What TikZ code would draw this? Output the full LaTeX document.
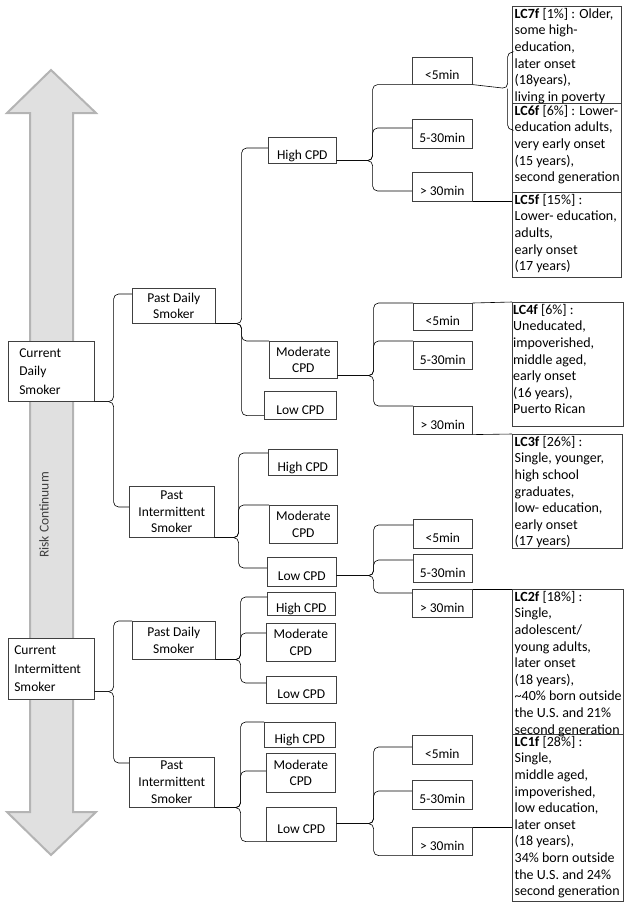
\documentclass[tikz,border=0pt]{standalone}
\usepackage{fontspec}
\setmainfont{Carlito}
\usepackage{xcolor}
\usepackage{tikz}
\definecolor{arrowfill}{HTML}{E0E0E0}
\definecolor{arrowedge}{HTML}{B4B4B4}

\begin{document}
\begin{tikzpicture}[x=1pt, y=-1pt,
  font=\fontsize{13.5}{16.6}\selectfont,
  box/.style={draw=black!75, line width=0.6pt, fill=white, anchor=north west, inner sep=0pt, align=center},
  lone/.style={box, text height=18pt, text depth=0pt},
  toplevel/.style={box, align=left, font=\fontsize{13.5}{18.5}\selectfont},
  lcbox/.style={draw=black!75, line width=0.6pt, anchor=north west, inner sep=0pt},
  lctext/.style={anchor=north west, inner xsep=2.5pt, inner ysep=2pt, align=left, font=\fontsize{14}{16.6}\selectfont},
  link/.style={draw=black, line width=0.6pt, rounded corners=5pt}]
  \useasboundingbox (0,0) rectangle (629,906);
  % Risk arrow
  \draw[arrowedge, fill=arrowfill, line width=2pt] (51,70) -- (96,113) -- (73,113) -- (73,812)
    -- (96,812) -- (51,855) -- (7,812) -- (30,812) -- (30,113) -- (7,113) -- cycle;
  \node[rotate=90, text=black!75] (risk) at (44,515) {Risk Continuum};
  % Current status
  \node[toplevel, minimum width=86pt, minimum height=60pt, inner xsep=11pt, text width=64pt] (cds) at (8,341) {Current\\Daily\\Smoker};
  \node[toplevel, minimum width=86pt, minimum height=61pt, inner xsep=6pt, text width=74pt] (cis) at (8,638) {Current\\Intermittent\\Smoker};
  % Past status
  \node[box, minimum width=83pt, minimum height=35pt] (pds1) at (132,288) {Past Daily\\Smoker};
  \node[box, minimum width=85pt, minimum height=51pt] (pis1) at (129,486) {Past\\Intermittent\\Smoker};
  \node[box, minimum width=83pt, minimum height=38pt] (pds2) at (132,621) {Past Daily\\Smoker};
  \node[box, minimum width=85pt, minimum height=50pt] (pis2) at (129,757) {Past\\Intermittent\\Smoker};
  % Cigarettes per day
  \node[lone, minimum width=68pt, minimum height=26pt] (hi1) at (268,137) {High CPD};
  \node[box, minimum width=68pt, minimum height=37pt] (mo1) at (269,341) {Moderate\\CPD};
  \node[lone, minimum width=72pt, minimum height=28pt] (lo1) at (264,391) {Low CPD};
  \node[lone, minimum width=69pt, minimum height=26pt] (hi2) at (268,449) {High CPD};
  \node[box, minimum width=68pt, minimum height=38pt] (mo2) at (269,505) {Moderate\\CPD};
  \node[lone, minimum width=69pt, minimum height=29pt] (lo2) at (267,557) {Low CPD};
  \node[lone, minimum width=68pt, minimum height=23pt] (hi3) at (267,592) {High CPD};
  \node[box, minimum width=69pt, minimum height=38pt] (mo3) at (266,623) {Moderate\\CPD};
  \node[lone, minimum width=70pt, minimum height=27pt] (lo3) at (266,676) {Low CPD};
  \node[lone, minimum width=71pt, minimum height=25pt] (hi4) at (264,722) {High CPD};
  \node[box, minimum width=69pt, minimum height=39pt] (mo4) at (266,753) {Moderate\\CPD};
  \node[lone, minimum width=70pt, minimum height=34pt] (lo4) at (266,807) {Low CPD};
  % Time to first cigarette
  \node[lone, minimum width=60pt, minimum height=27pt] (fast1) at (412,57) {<5min};
  \node[lone, minimum width=60pt, minimum height=29pt] (mid1) at (412,119) {5-30min};
  \node[lone, minimum width=60pt, minimum height=29pt] (slow1) at (412,172) {> 30min};
  \node[lone, minimum width=59pt, minimum height=27pt] (fast2) at (413,303) {<5min};
  \node[lone, minimum width=59pt, minimum height=28pt] (mid2) at (413,341) {5-30min};
  \node[lone, minimum width=59pt, minimum height=28pt] (slow2) at (413,406) {> 30min};
  \node[lone, minimum width=59pt, minimum height=29pt] (fast3) at (413,519) {<5min};
  \node[lone, minimum width=59pt, minimum height=28pt] (mid3) at (413,554) {5-30min};
  \node[lone, minimum width=60pt, minimum height=28pt] (slow3) at (412,589) {> 30min};
  \node[lone, minimum width=60pt, minimum height=29pt] (fast4) at (412,735) {<5min};
  \node[lone, minimum width=60pt, minimum height=29pt] (mid4) at (412,780) {5-30min};
  \node[lone, minimum width=60pt, minimum height=28pt] (slow4) at (412,827) {> 30min};
  % Latent classes
  \node[lcbox, minimum width=109pt, minimum height=97pt] (lc7) at (512,6) {};
  \node[lcbox, minimum width=109pt, minimum height=89pt] (lc6) at (512,103) {};
  \node[lcbox, minimum width=109pt, minimum height=85pt] (lc5) at (512,192) {};
  \node[lcbox, minimum width=111pt, minimum height=124pt] (lc4) at (512,302) {};
  \node[lcbox, minimum width=110pt, minimum height=114pt] (lc3) at (512,434) {};
  \node[lcbox, minimum width=111pt, minimum height=145pt] (lc2) at (512,589) {};
  \node[lcbox, minimum width=111pt, minimum height=167pt] (lc1) at (512,734) {};
  \node[lctext] (lc7t) at (lc7.north west) {\textbf{LC7f} [1\%] : Older,\\some high-\\education,\\later onset\\(18years),\\living in poverty};
  \node[lctext] (lc6t) at (lc6.north west) {\textbf{LC6f} [6\%] : Lower-\\education adults,\\very early onset\\(15 years),\\second generation};
  \node[lctext] (lc5t) at (lc5.north west) {\textbf{LC5f} [15\%] :\\Lower- education,\\adults,\\early onset\\(17 years)};
  \node[lctext, inner xsep=1pt] (lc4t) at (lc4.north west) {\textbf{LC4f} [6\%] :\\Uneducated,\\impoverished,\\middle aged,\\early onset\\(16 years),\\Puerto Rican};
  \node[lctext] (lc3t) at (lc3.north west) {\textbf{LC3f} [26\%] :\\Single, younger,\\high school\\graduates,\\low- education,\\early onset\\(17 years)};
  \node[lctext] (lc2t) at (lc2.north west) {\textbf{LC2f} [18\%] :\\Single,\\adolescent/\\young adults,\\later onset\\(18 years),\\\textasciitilde40\% born outside\\the U.S. and 21\%\\second generation};
  \node[lctext] (lc1t) at (lc1.north west) {\textbf{LC1f} [28\%] :\\Single,\\middle aged,\\impoverished,\\low education,\\later onset\\(18 years),\\34\% born outside\\the U.S. and 24\%\\second generation};
  % Current -> past
  \draw[link] (cds.south east) -- ++(19,0) |- ([yshift=-6pt]pds1.north west);
  \draw[link] (cds.south east) -- ++(19,0) |- ([yshift=-21pt]pis1.north west);
  \draw[link] ([yshift=8pt]cis.south east) -- ++(19,0) |- (pds2.north west);
  \draw[link] ([yshift=8pt]cis.south east) -- ++(19,0) |- ([yshift=-6pt]pis2.north west);
  % Past -> CPD
  \draw[link] (pds1.south east) -- ++(26,0) |- ([yshift=-11pt]hi1.north west);
  \draw[link] (pds1.south east) -- ++(26,0) |- (mo1.north west);
  \draw[link] (pds1.south east) -- ++(26,0) |- ([yshift=4pt]lo1.south west);
  \draw[link] (pis1.south east) -- ++(24,0) |- ([yshift=-4pt]hi2.north west);
  \draw[link] (pis1.south east) -- ++(24,0) |- (mo2.north west);
  \draw[link] (pis1.south east) -- ++(24,0) |- ([yshift=-11pt]lo2.north west);
  \draw[link] (pds2.south east) -- ++(25,0) |- ([yshift=-5pt]hi3.north west);
  \draw[link] (pds2.south east) -- ++(25,0) |- ([yshift=-10pt]mo3.north west);
  \draw[link] (pds2.south east) -- ++(25,0) |- ([yshift=-7pt]lo3.north west);
  \draw[link] (pis2.south east) -- ++(26,0) |- (hi4.north west);
  \draw[link] (pis2.south east) -- ++(26,0) |- ([yshift=-18pt]mo4.north west);
  \draw[link] (pis2.south east) -- ++(26,0) |- (lo4.south west);
  % CPD -> time to first cigarette
  \draw[link] ([yshift=3pt]hi1.south east) -- ++(36,0) |- (fast1.south west);
  \draw[link] ([yshift=3pt]hi1.south east) -- ++(36,0) |- ([yshift=-9pt]mid1.north west);
  \draw[link] ([yshift=3pt]hi1.south east) -- ++(36,0) |- ([yshift=-19pt]slow1.north west);
  \draw[link] ([yshift=3pt]mo1.south east) -- ++(36,0) |- (fast2.north west);
  \draw[link] ([yshift=3pt]mo1.south east) -- ++(36,0) |- (mid2.north west);
  \draw[link] ([yshift=3pt]mo1.south east) -- ++(36,0) |- (slow2.north west);
  \draw[link] ([yshift=11pt]lo2.south east) -- ++(37,0) |- ([yshift=-6pt]fast3.north west);
  \draw[link] ([yshift=11pt]lo2.south east) -- ++(37,0) |- ([yshift=-6pt]mid3.north west);
  \draw[link] ([yshift=11pt]lo2.south east) -- ++(37,0) |- ([yshift=-4pt]slow3.north west);
  \draw[link] ([yshift=18pt]lo4.south east) -- ++(37,0) |- ([yshift=-12pt]fast4.north west);
  \draw[link] ([yshift=18pt]lo4.south east) -- ++(37,0) |- ([yshift=-11pt]mid4.north west);
  \draw[link] ([yshift=18pt]lo4.south east) -- ++(37,0) |- (slow4.south west);
  % Time -> latent classes
  \draw[link] (fast1.south east) -- ++(35,4) coordinate (split) |- ([yshift=-46pt]lc7.north west);
  \draw[link] (split) |- ([yshift=-27pt]lc6.north west);
  \draw[link] (slow1.south east) -- (slow1.south east -| lc5.west);
  \draw[link] (fast2.north east) -- (lc4.north west);
  \draw[link] (slow2.south east) -- (lc3.north west);
  \draw[link] (slow3.north east) -- (lc2.north west);
  \draw[link] (slow4.north east) -- (slow4.north east -| lc1.west);
\end{tikzpicture}
\end{document}
